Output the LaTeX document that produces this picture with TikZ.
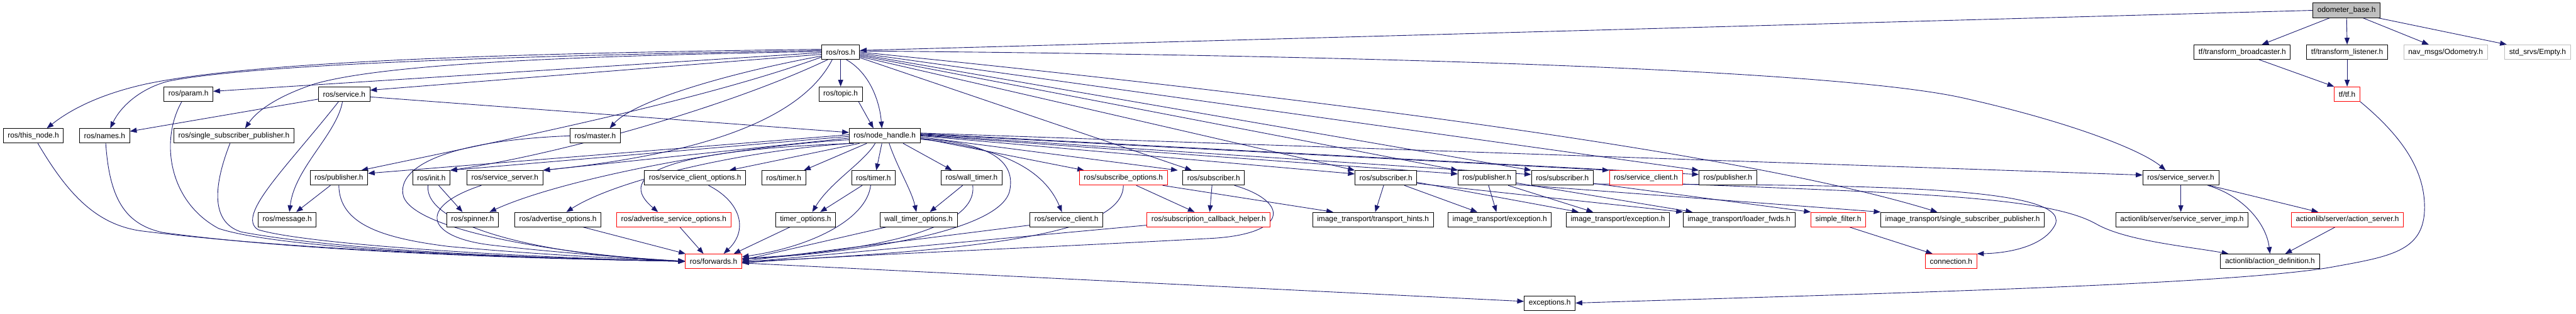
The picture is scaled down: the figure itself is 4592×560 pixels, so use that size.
\documentclass[tikz,border=0pt]{standalone}
\usepackage{fontspec}
\setmainfont{Liberation Sans}
\usetikzlibrary{arrows.meta}
\definecolor{edgec}{HTML}{191970}
\definecolor{greyb}{HTML}{BFBFBF}
\definecolor{redb}{HTML}{FF0000}
\pgfdeclarelayer{paper}
\pgfdeclarelayer{background}
\pgfsetlayers{paper,background,main}
\begin{document}
\begin{tikzpicture}[x=1pt,y=-1pt,
  box/.style={draw=black, line width=1pt, fill=white, minimum height=26pt, inner xsep=8pt, inner ysep=0pt, font=\fontsize{13.33pt}{16pt}\selectfont},
  redbox/.style={box, draw=redb},
  greybox/.style={box, draw=greyb},
  dep/.style={draw=edgec, line width=1pt, -{Triangle[length=12pt,width=9pt]}}]
\useasboundingbox (0,0) rectangle (4592,560);
\begin{pgfonlayer}{paper}
\fill[white] (0,0) rectangle (4592,560);
\end{pgfonlayer}
% row 0
\node[box, fill=greyb] (odometer) at (4183,18.5) {odometer\_base.h};
% row 1
\node[box] (ros_h) at (1498.5,93) {ros/ros.h};
\node[box] (tf_bc) at (3997,93) {tf/transform\_broadcaster.h};
\node[box] (tf_ls) at (4184,93) {tf/transform\_listener.h};
\node[greybox] (nav) at (4359.5,93) {nav\_msgs/Odometry.h};
\node[greybox] (empty) at (4523.5,93) {std\_srvs/Empty.h};
% row 2
\node[box] (param) at (336,168) {ros/param.h};
\node[box] (service) at (613.5,168) {ros/service.h};
\node[box] (topic) at (1498.5,168) {ros/topic.h};
\node[redbox] (tf) at (4184,168) {tf/tf.h};
% row 3
\node[box] (this_node) at (59.5,242.5) {ros/this\_node.h};
\node[box] (names) at (186.5,242.5) {ros/names.h};
\node[box] (ros_ssp) at (417,242.5) {ros/single\_subscriber\_publisher.h};
\node[box] (master) at (1061,242.5) {ros/master.h};
\node[box] (node_handle) at (1577,242.5) {ros/node\_handle.h};
% row 4
\node[box] (pub1) at (604,317.5) {ros/publisher.h};
\node[box] (init) at (769,317.5) {ros/init.h};
\node[box] (ss1) at (900,317.5) {ros/service\_server.h};
\node[box] (sco) at (1239,317.5) {ros/service\_client\_options.h};
\node[box] (timer1) at (1397,317.5) {ros/timer.h};
\node[box] (timer2) at (1557,317.5) {ros/timer.h};
\node[box] (wall_timer) at (1732,317.5) {ros/wall\_timer.h};
\node[redbox] (subopt) at (2002.5,317.5) {ros/subscribe\_options.h};
\node[box] (sub1) at (2163.5,317.5) {ros/subscriber.h};
\node[box] (sub2) at (2470.5,317.5) {ros/subscriber.h};
\node[box] (pub2) at (2650.5,317.5) {ros/publisher.h};
\node[box] (sub3) at (2785,317.5) {ros/subscriber.h};
\node[redbox] (sc2) at (2934,317.5) {ros/service\_client.h};
\node[box] (pub3) at (3080,317.5) {ros/publisher.h};
\node[box] (ss2) at (3887.5,317.5) {ros/service\_server.h};
% row 5
\node[box] (message) at (512,392) {ros/message.h};
\node[box] (spinner) at (842.5,392) {ros/spinner.h};
\node[box] (adv_opt) at (994.5,392) {ros/advertise\_options.h};
\node[redbox] (adv_srv_opt) at (1201,392) {ros/advertise\_service\_options.h};
\node[box] (timer_opt) at (1436,392) {timer\_options.h};
\node[box] (wt_opt) at (1637.5,392) {wall\_timer\_options.h};
\node[box] (sc1) at (1901,392) {ros/service\_client.h};
\node[redbox] (sch) at (2154.5,392) {ros/subscription\_callback\_helper.h};
\node[box] (hints) at (2447.5,392) {image\_transport/transport\_hints.h};
\node[box] (exc1) at (2673.5,392) {image\_transport/exception.h};
\node[box] (exc2) at (2884,392) {image\_transport/exception.h};
\node[box] (loader) at (3100,392) {image\_transport/loader\_fwds.h};
\node[redbox] (simple_filter) at (3277,392) {simple\_filter.h};
\node[box] (it_ssp) at (3498.5,392) {image\_transport/single\_subscriber\_publisher.h};
\node[box] (ssimp) at (3889.5,392) {actionlib/server/service\_server\_imp.h};
\node[redbox] (action_server) at (4184.5,392) {actionlib/server/action\_server.h};
% row 6
\node[redbox] (forwards) at (1272,466.5) {ros/forwards.h};
\node[redbox] (connection) at (3478,466.5) {connection.h};
\node[box] (action_def) at (4046.5,466.5) {actionlib/action\_definition.h};
% row 7
\node[box] (exceptions) at (2762.5,541) {exceptions.h};

\begin{pgfonlayer}{background}
% odometer_base.h
\draw[dep] (odometer.west) -- ([yshift=3pt]ros_h.east);
\draw[dep] ([xshift=-30pt]odometer.south) -- ([xshift=35pt]tf_bc.north);
\draw[dep] (odometer.south) -- (tf_ls.north);
\draw[dep] ([xshift=29pt]odometer.south) -- ([xshift=-30pt]nav.north);
\draw[dep] ([xshift=56pt]odometer.south) -- ([xshift=-55pt]empty.north);
% tf
\draw[dep] ([xshift=30pt]tf_bc.south) -- (tf.north west);
\draw[dep] (tf_ls.south) -- (tf.north);
\draw[dep] (tf.south east) .. controls (4290,250) and (4322,310) .. (4322,370) .. controls (4322,450) and (4260,458) .. (4150,478) .. controls (3950,510) and (3300,525) .. (exceptions.east);
% ros/ros.h
\draw[dep] ([yshift=5pt]ros_h.west) .. controls (900,95) and (450,110) .. (260,150) .. controls (170,170) and (120,200) .. ([xshift=24pt]this_node.north);
\draw[dep] ([yshift=3pt]ros_h.west) .. controls (900,100) and (450,115) .. (300,145) .. controls (250,158) and (215,190) .. ([xshift=10pt]names.north);
\draw[dep] ([yshift=1pt]ros_h.west) .. controls (1000,100) and (680,115) .. (560,150) .. controls (500,170) and (460,195) .. ([xshift=20pt]ros_ssp.north);
\draw[dep] ([yshift=-1pt]ros_h.west) -- ([yshift=5pt]param.east);
\draw[dep] ([yshift=-4pt]ros_h.west) -- ([yshift=7pt]service.east);
\draw[dep] ([yshift=-7pt]ros_h.west) .. controls (1300,130) and (1130,180) .. ([xshift=26pt]master.north);
\draw[dep] (ros_h.south) -- (topic.north);
\draw[dep] ([xshift=10pt]ros_h.south) .. controls (1550,130) and (1568,180) .. ([xshift=-5pt]node_handle.north);
\draw[dep] ([yshift=-9pt]ros_h.west) .. controls (1250,180) and (900,250) .. ([xshift=40pt]pub1.north);
\draw[dep] ([xshift=-23pt]ros_h.south) .. controls (1300,190) and (1000,275) .. (init.north east);
\draw[dep] ([xshift=-15pt]ros_h.south) .. controls (1420,230) and (1200,280) .. (ss1.north east);
\draw[dep] ([yshift=-10pt]ros_h.east) -- ([xshift=-39pt]sub1.north);
\draw[dep] ([yshift=-8pt]ros_h.east) -- (sub2.north west);
\draw[dep] ([yshift=-6pt]ros_h.east) -- (pub2.north west);
\draw[dep] ([yshift=-4pt]ros_h.east) -- (sub3.north west);
\draw[dep] ([yshift=-2pt]ros_h.east) -- (pub3.north west);
\draw[dep] (ros_h.east) .. controls (2300,170) and (3100,270) .. ([xshift=-45pt]it_ssp.north);
\draw[dep] ([yshift=2pt]ros_h.east) .. controls (2600,100) and (3300,130) .. (3500,175) .. controls (3700,220) and (3820,270) .. ([xshift=-27pt]ss2.north);
% ros/node_handle.h
\draw[dep] ([yshift=-5pt]node_handle.east) .. controls (1770,255) and (1810,290) .. (1800,340) .. controls (1785,410) and (1550,450) .. ([yshift=4pt]forwards.east);
\draw[dep] ([yshift=2pt]node_handle.west) -- ([yshift=8pt]pub1.east);
\draw[dep] ([yshift=-1pt]node_handle.west) -- (init.north east);
\draw[dep] ([yshift=-4pt]node_handle.west) -- (ss1.north east);
\draw[dep] ([yshift=-7pt]node_handle.west) .. controls (1300,262) and (1000,320) .. ([xshift=30pt]spinner.north);
\draw[dep] ([xshift=-60pt]node_handle.south) .. controls (1330,268) and (1100,320) .. ([xshift=15pt]adv_opt.north);
\draw[dep] ([xshift=-55pt]node_handle.south) .. controls (1250,265) and (1080,300) .. ([xshift=-28pt]adv_srv_opt.north);
\draw[dep] ([xshift=-45pt]node_handle.south) -- ([xshift=61pt]sco.north);
\draw[dep] ([xshift=-32pt]node_handle.south) -- ([xshift=36pt]timer1.north);
\draw[dep] ([xshift=-5pt]node_handle.south) -- ([xshift=5pt]timer2.north);
\draw[dep] ([xshift=-17pt]node_handle.south) .. controls (1540,290) and (1480,325) .. ([xshift=12pt]timer_opt.north);
\draw[dep] ([xshift=8pt]node_handle.south) .. controls (1600,300) and (1625,340) .. ([xshift=-4pt]wt_opt.north);
\draw[dep] ([xshift=33pt]node_handle.south) -- ([xshift=-35pt]wall_timer.north);
\draw[dep] ([yshift=-6pt]node_handle.east) .. controls (1780,262) and (1860,300) .. ([xshift=-8pt]sc1.north);
\draw[dep] ([yshift=-4pt]node_handle.east) -- ([xshift=-70pt]subopt.north);
\draw[dep] ([yshift=-2pt]node_handle.east) -- ([xshift=-64pt]sub1.north);
\draw[dep] (node_handle.east) -- ([yshift=7pt]sub2.west);
\draw[dep] ([yshift=1pt]node_handle.east) -- ([yshift=7pt]pub2.west);
\draw[dep] ([yshift=2pt]node_handle.east) -- ([yshift=6pt]sub3.west);
\draw[dep] ([yshift=3pt]node_handle.east) -- (sc2.north west);
\draw[dep] ([yshift=4pt]node_handle.east) -- ([yshift=6pt]pub3.west);
\draw[dep] ([yshift=5pt]node_handle.east) -- ([yshift=5pt]ss2.west);
% ros/topic.h
\draw[dep] ([xshift=32pt]topic.south) -- ([xshift=-20pt]node_handle.north);
% ros/service.h
\draw[dep] ([yshift=-9pt]service.west) -- ([yshift=8pt]names.east);
\draw[dep] ([yshift=-5pt]service.east) -- ([yshift=6pt]node_handle.west);
\draw[dep] ([xshift=-3pt]service.south) .. controls (600,240) and (525,300) .. ([xshift=4pt]message.north);
\draw[dep] ([xshift=-10pt]service.south) .. controls (510,300) and (420,385) .. (460,410) .. controls (560,440) and (1000,462) .. (forwards.west);
% ros/publisher.h (1)
\draw[dep] ([xshift=-15pt]pub1.south) -- ([xshift=16pt]message.north);
\draw[dep] (pub1.south) .. controls (605,400) and (680,425) .. (800,440) .. controls (1000,458) and (1150,463) .. (forwards.west);
% leaves into ros/forwards.h from the left
\draw[dep] ([xshift=8pt]this_node.south) .. controls (120,345) and (170,400) .. (250,412) .. controls (550,450) and (1000,462) .. (forwards.west);
\draw[dep] ([xshift=2pt]names.south) .. controls (195,350) and (220,400) .. (290,415) .. controls (560,452) and (1000,463) .. (forwards.west);
\draw[dep] ([xshift=-12pt]param.south) .. controls (285,250) and (300,360) .. (390,408) .. controls (520,450) and (1000,462) .. (forwards.west);
\draw[dep] ([xshift=-7pt]ros_ssp.south) .. controls (385,320) and (370,395) .. (430,414) .. controls (620,450) and (1000,462) .. (forwards.west);
\draw[dep] (master.west) .. controls (820,250) and (712,290) .. (718,345) .. controls (724,410) and (1000,455) .. (forwards.west);
\draw[dep] ([xshift=-6pt]init.south) .. controls (755,400) and (950,455) .. (forwards.west);
\draw[dep] ([xshift=13pt]init.south) -- ([xshift=-18pt]spinner.north);
\draw[dep] ([xshift=-42pt]ss1.south) .. controls (740,370) and (760,425) .. (880,438) .. controls (1000,452) and (1150,462) .. (forwards.west);
% into ros/forwards.h from above
\draw[dep] ([xshift=45pt]adv_opt.south) -- ([xshift=-50pt]forwards.north);
\draw[dep] ([xshift=11pt]adv_srv_opt.south) -- ([xshift=-18pt]forwards.north);
\draw[dep] ([xshift=24pt]sco.south) .. controls (1320,360) and (1335,410) .. ([xshift=18pt]forwards.north);
\draw[dep] ([xshift=-28pt]timer_opt.south) -- ([xshift=36pt]forwards.north);
% timers
\draw[dep] ([xshift=-20pt]timer2.south) -- ([xshift=26pt]timer_opt.north);
\draw[dep] ([xshift=-5pt]timer2.south) .. controls (1545,390) and (1450,440) .. ([yshift=8pt]forwards.east);
\draw[dep] ([xshift=-16pt]wall_timer.south) -- ([xshift=20pt]wt_opt.north);
\draw[dep] ([xshift=2pt]wall_timer.south) .. controls (1745,420) and (1500,452) .. ([yshift=5pt]forwards.east);
\draw[dep] ([xshift=-58pt]wt_opt.south) -- ([yshift=2pt]forwards.east);
\draw[dep] ([yshift=-10pt]sc1.west) -- (forwards.east);
% subscribe options / subscriber
\draw[dep] (subopt.south) .. controls (2002,410) and (1800,445) .. ([yshift=-1pt]forwards.east);
\draw[dep] ([xshift=23pt]subopt.south) -- ([xshift=-25pt]sch.north);
\draw[dep] ([xshift=70pt]subopt.south) -- ([xshift=-71pt]hints.north);
\draw[dep] ([xshift=-3pt]sub1.south) -- ([xshift=2pt]sch.north);
\draw[dep] ([xshift=37pt]sub1.south) .. controls (2300,360) and (2300,420) .. (2150,426) .. controls (1800,445) and (1500,456) .. ([yshift=-3pt]forwards.east);
\draw[dep] ([yshift=-10pt]sch.west) -- ([yshift=-2pt]forwards.east);
\draw[dep] ([yshift=-3pt]forwards.east) -- ([yshift=3pt]exceptions.west);
% image_transport
\draw[dep] ([xshift=-4pt]sub2.south) -- ([xshift=4pt]hints.north);
\draw[dep] ([xshift=33pt]sub2.south) -- ([xshift=-40pt]exc1.north);
\draw[dep] ([yshift=-8pt]sub2.east) -- ([xshift=-70pt]exc2.north);
\draw[dep] ([yshift=-10pt]sub2.east) -- (loader.north west);
\draw[dep] ([xshift=3pt]pub2.south) -- ([xshift=-6pt]exc1.north);
\draw[dep] ([xshift=38pt]pub2.south) -- ([xshift=-44pt]exc2.north);
\draw[dep] ([yshift=-9pt]pub2.east) -- ([xshift=-83pt]loader.north);
\draw[dep] ([yshift=-12pt]pub2.east) -- (it_ssp.north west);
% message filters
\draw[dep] ([yshift=-10pt]sub3.east) -- (simple_filter.north west);
\draw[dep] ([yshift=-11pt]sub3.east) .. controls (3300,330) and (3690,330) .. (3664,400) .. controls (3645,440) and (3580,452) .. (connection.north east);
\draw[dep] ([xshift=20pt]simple_filter.south) -- ([xshift=-33pt]connection.north);
% actionlib
\draw[dep] ([yshift=-11pt]sc2.east) .. controls (3400,345) and (3650,350) .. (3737,400) .. controls (3790,430) and (3900,440) .. ([xshift=-74pt]action_def.north);
\draw[dep] (ss2.south) -- (ss2.south |- ssimp.north);
\draw[dep] ([xshift=48pt]ss2.south) .. controls (4000,350) and (4040,400) .. (action_def.north);
\draw[dep] ([xshift=51pt]ss2.south) -- ([xshift=-52pt]action_server.north);
\draw[dep] ([xshift=-22pt]action_server.south) -- ([xshift=27pt]action_def.north);
\end{pgfonlayer}
\end{tikzpicture}
\end{document}
